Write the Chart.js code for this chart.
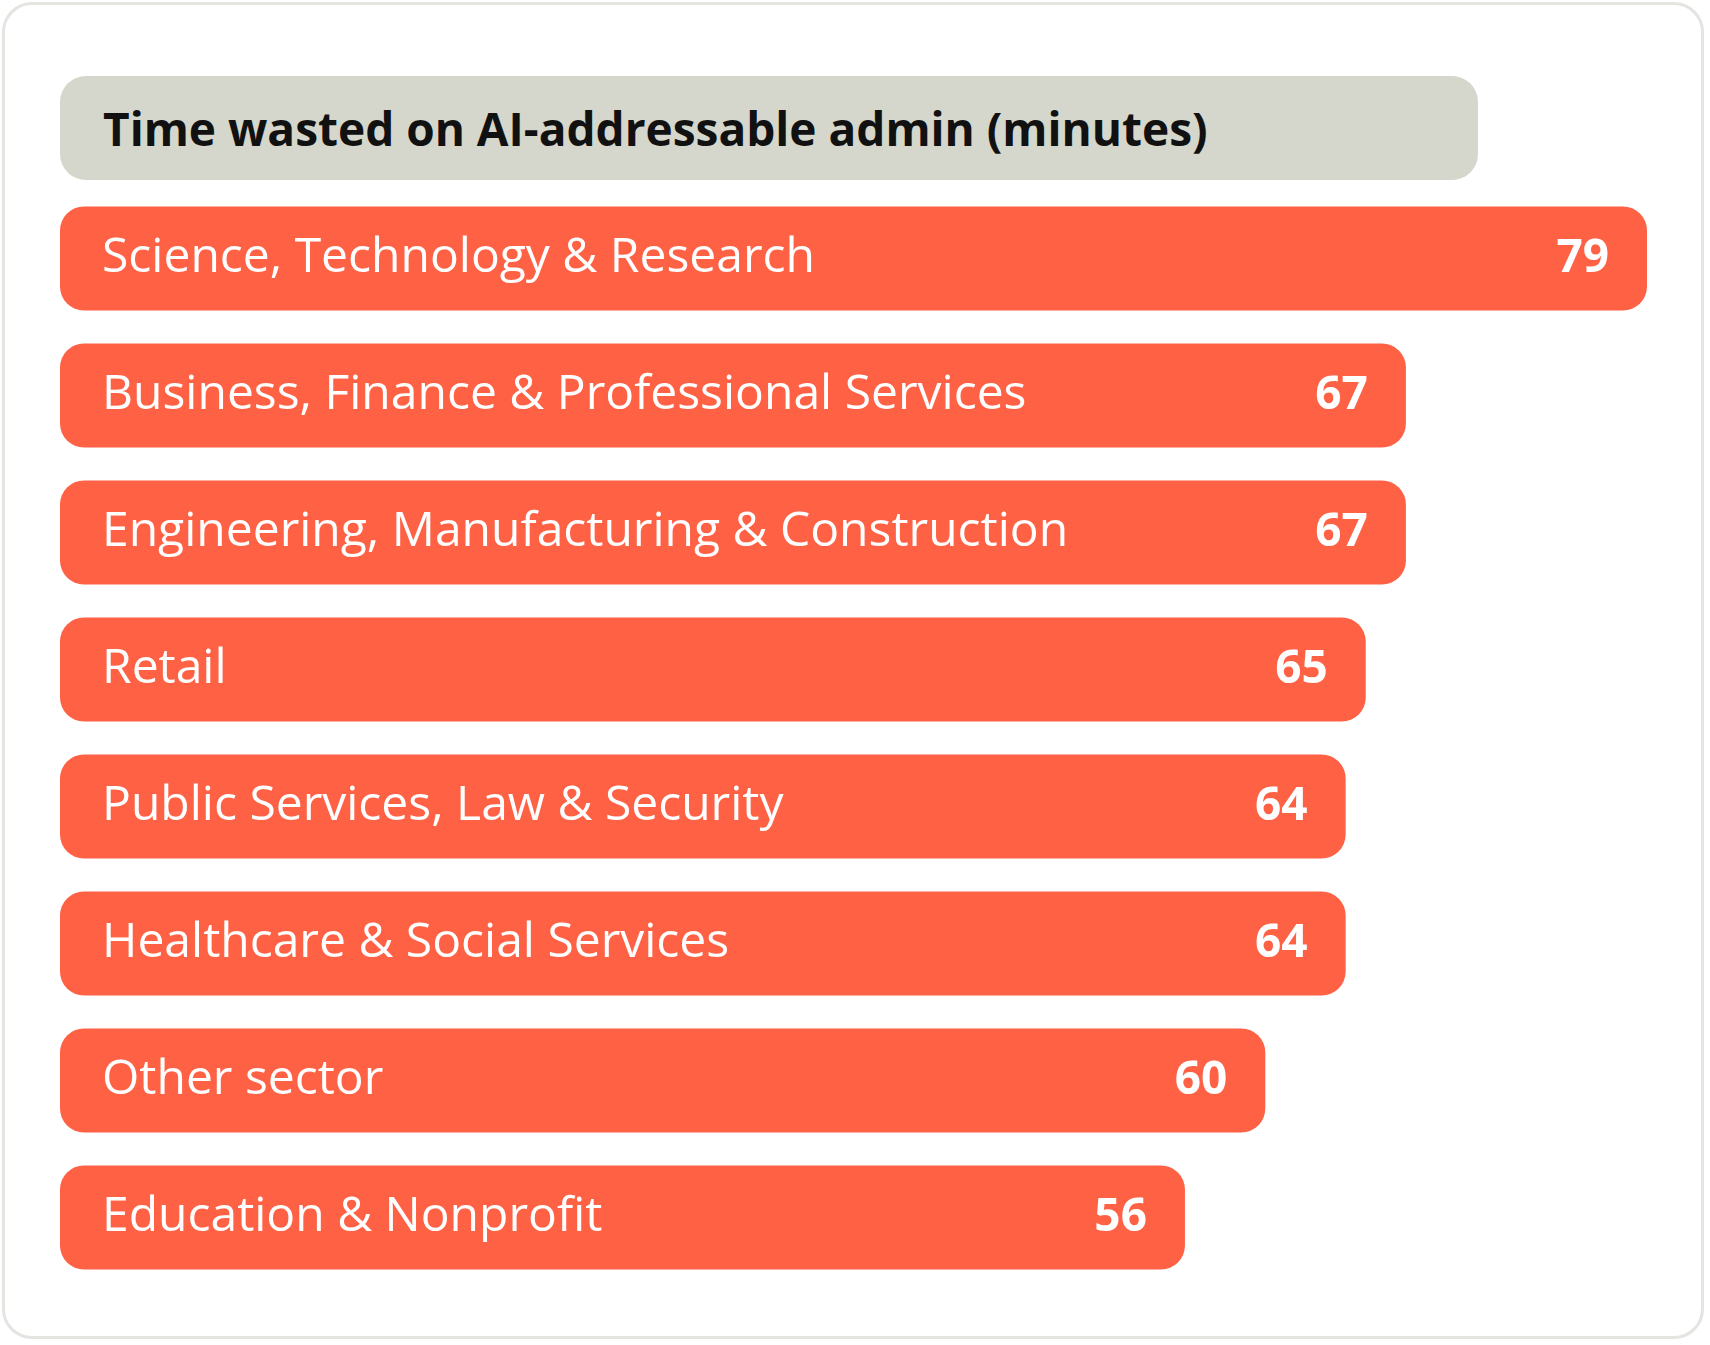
<!DOCTYPE html>
<html><head><meta charset="utf-8">
<script src="https://cdn.jsdelivr.net/npm/chart.js@4/dist/chart.umd.min.js"></script>
<style>
html,body{margin:0;padding:0;background:#fff;width:1710px;height:1345px;overflow:hidden;font-family:"Open Sans",sans-serif}
#card{position:absolute;left:2px;top:2px;width:1702px;height:1337px;border:3px solid #e4e4e0;border-radius:30px;box-sizing:border-box}
#title{position:absolute;left:60px;top:76px;width:1418px;height:104px;background:#d5d7cc;border-radius:26px;font-weight:700;font-size:46px;line-height:104px;padding-left:43px;box-sizing:border-box;color:#111}
#wrap{position:absolute;left:0;top:190px;width:1710px;height:1096px}
</style></head><body>
<div id="card"></div>
<div id="title">Time wasted on AI-addressable admin (minutes)</div>
<div id="wrap"><canvas id="c"></canvas></div>
<script>
const categories=["Science, Technology & Research","Business, Finance & Professional Services","Engineering, Manufacturing & Construction","Retail","Public Services, Law & Security","Healthcare & Social Services","Other sector","Education & Nonprofit"];
const minutes=[79,67,67,65,64,64,60,56];
const labelPlugin={id:'lbl',afterDatasetsDraw(chart){
  const ctx=chart.ctx;const meta=chart.getDatasetMeta(0);
  ctx.save();ctx.fillStyle='#fff';ctx.textBaseline='middle';
  meta.data.forEach((b,i)=>{
    ctx.font='48px "Open Sans"';ctx.textAlign='left';
    ctx.fillText(categories[i],b.base+42,b.y);
    ctx.font='bold 46px "Open Sans"';ctx.textAlign='right';
    ctx.fillText(String(minutes[i]),b.x-38,b.y);
  });ctx.restore();}};
new Chart(document.getElementById('c'),{type:'bar',
 data:{labels:categories,datasets:[{data:minutes,backgroundColor:'#ff6145',borderRadius:24,borderSkipped:false,barPercentage:0.76,categoryPercentage:1}]},
 options:{indexAxis:'y',responsive:true,maintainAspectRatio:false,animation:false,
  layout:{padding:{left:60,right:60,top:0,bottom:0}},
  plugins:{legend:{display:false},tooltip:{enabled:false}},
  scales:{x:{display:false,min:0,max:79.15},y:{display:false}}},
 plugins:[labelPlugin]});
</script></body></html>
